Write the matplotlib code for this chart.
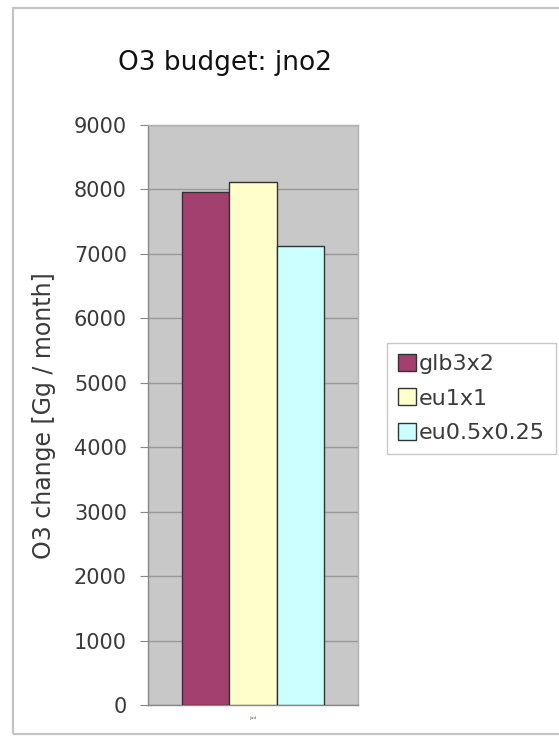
import matplotlib
matplotlib.use("Agg")
import matplotlib.pyplot as plt
from matplotlib.patches import Rectangle

plt.rcParams['font.family'] = ['DejaVu Sans']

title = "O3 budget: jno2"
ylabel = "O3 change [Gg / month]"
category = ["jwd"]
series_names = ["glb3x2", "eu1x1", "eu0.5x0.25"]
series_values = [7960, 8120, 7130]
series_colors = ["#A3406F", "#FFFFCC", "#CCFFFF"]
yticks = [0, 1000, 2000, 3000, 4000, 5000, 6000, 7000, 8000, 9000]

fig = plt.figure(figsize=(5.59, 7.36), dpi=100)
fig.patch.set_facecolor("white")

# outer chart border
fig.add_artist(Rectangle((13 / 559, 2 / 736), 1.2, 726 / 736,
                         transform=fig.transFigure, fill=False,
                         edgecolor="#C4C4C4", linewidth=1.6))

ax = fig.add_axes([148 / 559, 1 - 705 / 736, 210 / 559, 580 / 736])
ax.set_facecolor("#C8C8C8")

bar_w = 0.224
offsets = [-bar_w, 0.0, bar_w]
for name, val, col, off in zip(series_names, series_values, series_colors, offsets):
    ax.bar(0 + off, val, width=bar_w, color=col, edgecolor="#333333",
           linewidth=1.0, label=name, zorder=3)

ax.set_xlim(-0.5, 0.5)
ax.set_ylim(0, 9000)
ax.set_yticks(yticks)
ax.set_yticklabels([str(t) for t in yticks], fontsize=15, color="#3A3A3A")
ax.set_xticks([0])
ax.set_xticklabels(category, fontsize=3, color="#555555")
ax.tick_params(axis="y", length=5.8, width=0.8, color="#888888", pad=9.4)
ax.tick_params(axis="x", length=0, pad=8)
ax.yaxis.grid(True, color="#9A9A9A", linewidth=1.0, zorder=0)
ax.set_axisbelow(True)
for side in ["top", "right"]:
    ax.spines[side].set_color("#B0B0B0")
    ax.spines[side].set_linewidth(1.0)
for side in ["left", "bottom"]:
    ax.spines[side].set_color("#888888")
    ax.spines[side].set_linewidth(1.0)

fig.text(44 / 559, 1 - 416 / 736, ylabel, rotation=90, fontsize=17,
         ha="center", va="center", color="#3A3A3A")
fig.text(225 / 559, 1 - 63 / 736, title, fontsize=19, ha="center",
         va="center", color="#111111")

leg = fig.legend(loc="upper left", bbox_to_anchor=(387 / 559, 1 - 343 / 736),
                 fontsize=16, frameon=True, fancybox=False, handlelength=0.8,
                 handleheight=0.8, handletextpad=0.15, labelspacing=0.63,
                 borderpad=0.5, borderaxespad=0)
leg.get_frame().set_edgecolor("#BBBBBB")
leg.get_frame().set_linewidth(1.0)
for t in leg.get_texts():
    t.set_color("#3A3A3A")

fig.savefig("out.png", dpi=100)
